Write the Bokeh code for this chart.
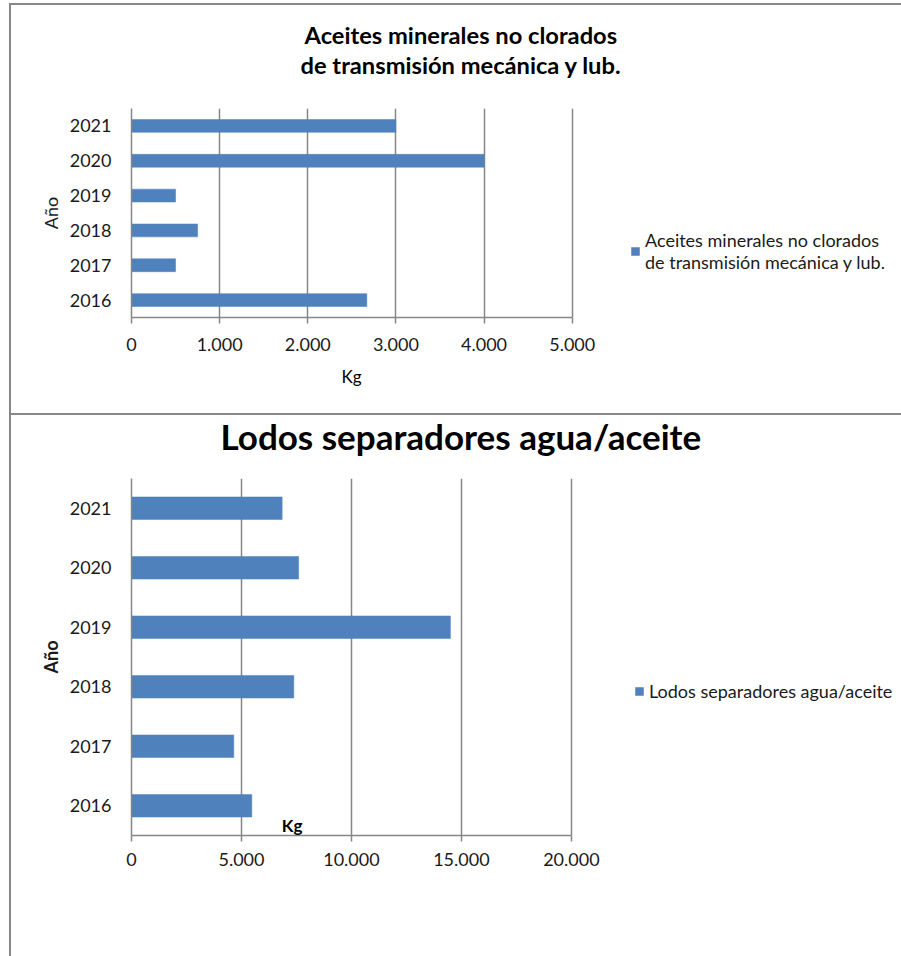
from bokeh.plotting import figure
from bokeh.models import ColumnDataSource, FactorRange, Range1d, FixedTicker, Label, Title, Legend
from bokeh.layouts import column
from bokeh.embed import file_html
from bokeh.resources import INLINE

# ---------------- data ----------------
years = ["2016", "2017", "2018", "2019", "2020", "2021"]

aceites_kg = [2670, 500, 750, 500, 4000, 3000]
aceites_ticks = [0, 1000, 2000, 3000, 4000, 5000]
aceites_tick_labels = ["0", "1.000", "2.000", "3.000", "4.000", "5.000"]
aceites_title = ["Aceites minerales no clorados", "de transmisión mecánica y lub."]
aceites_legend = "Aceites minerales no clorados\nde transmisión mecánica y lub."

lodos_kg = [5470, 4650, 7380, 14500, 7600, 6850]
lodos_ticks = [0, 5000, 10000, 15000, 20000]
lodos_tick_labels = ["0", "5.000", "10.000", "15.000", "20.000"]
lodos_title = "Lodos separadores agua/aceite"
lodos_legend = "Lodos separadores agua/aceite"

x_label = "Kg"
y_label = "Año"

# ---------------- style ----------------
FONT = "Lato"
BAR = "#4F81BD"
GRID = "#868686"
TXT = "#1a1a1a"
W = 901
LINE = "linear-gradient(#878787,#878787)"


def base_fig(h, ticks, labels, axis_px, ml, mt, mb, bar_h, vals, legend_text, yfont_style):
    # frame spans from ml to the right edge; the axis part (0..max tick) covers axis_px pixels
    frame_w = W - ml
    xmax = max(ticks) * frame_w / axis_px
    src = ColumnDataSource(dict(year=years, kg=vals))
    p = figure(width=W, height=h, y_range=FactorRange(factors=years),
               x_range=Range1d(0, xmax), output_backend="svg", toolbar_location=None,
               min_border_left=ml, min_border_right=0, min_border_top=mt, min_border_bottom=mb)
    r = p.hbar(y="year", right="kg", height=bar_h, source=src, fill_color=BAR, line_color=BAR,
               line_width=0.5)
    p.outline_line_color = None
    p.background_fill_alpha = 0
    p.border_fill_alpha = 0
    p.ygrid.visible = False
    p.xgrid.ticker = FixedTicker(ticks=ticks)
    p.xgrid.grid_line_color = GRID
    p.xgrid.grid_line_width = 1.5
    p.xaxis.ticker = FixedTicker(ticks=ticks)
    p.xaxis.bounds = (0, max(ticks))
    p.xaxis.major_label_overrides = {t: l for t, l in zip(ticks, labels)}
    p.xaxis.minor_tick_line_color = None
    p.xaxis.major_tick_out = 6
    p.xaxis.major_tick_in = 0
    p.xaxis.major_tick_line_color = GRID
    p.xaxis.major_tick_line_width = 1.5
    p.xaxis.axis_line_color = GRID
    p.xaxis.axis_line_width = 1.5
    p.yaxis.axis_line_color = GRID
    p.yaxis.axis_line_width = 1.5
    p.yaxis.major_tick_line_color = None
    p.yaxis.minor_tick_line_color = None
    for ax in (p.xaxis, p.yaxis):
        ax.major_label_text_font = FONT
        ax.major_label_text_font_size = "18px"
        ax.major_label_text_color = TXT
        ax.axis_label_text_font = FONT
        ax.axis_label_text_color = TXT
    p.yaxis.major_label_standoff = 14
    p.yaxis.axis_label = y_label
    p.yaxis.axis_label_text_font_size = "18px"
    p.yaxis.axis_label_text_font_style = yfont_style
    p.yaxis.axis_label_standoff = 5
    lg = Legend(items=[(legend_text, [r])])
    lg.label_text_font = FONT
    lg.label_text_font_size = "18px"
    lg.label_text_line_height = 1.33
    lg.label_text_color = TXT
    lg.glyph_width = 10
    lg.glyph_height = 10
    lg.label_standoff = 5
    lg.padding = 0
    lg.margin = 0
    lg.border_line_color = None
    lg.background_fill_alpha = 0
    p.add_layout(lg, "center")
    return p, lg


def title(text, size, offset, standoff, style="bold", valign="bottom"):
    return Title(text=text, align="left", offset=offset, standoff=standoff,
                 vertical_align=valign, text_font=FONT, text_font_size=size,
                 text_font_style=style, text_color="black")


# ---------------- top chart ----------------
p1, lg1 = base_fig(413, aceites_ticks, aceites_tick_labels, 440.7, 131, 108, 96, 0.37,
                   aceites_kg, aceites_legend, "normal")
p1.xaxis.major_label_standoff = 14
lg1.location = (499, 44)
p1.add_layout(title(aceites_title[1], "23.7px", 169, 60), "above")
p1.add_layout(title(aceites_title[0], "23.7px", 173, -61), "above")
# x-axis caption, centred under the 0..5000 part of the axis
p1.add_layout(title(x_label, "17px", 210, 24, style="normal", valign="top"), "below")
p1.styles = {"background": f"{LINE} 9px 3px / 2px 410px no-repeat, "
                           f"{LINE} 9px 3px / 892px 2px no-repeat, white"}

# ---------------- bottom chart ----------------
p2, lg2 = base_fig(543, lodos_ticks, lodos_tick_labels, 441, 129, 65, 121, 0.38,
                   lodos_kg, lodos_legend, "bold")
p2.xaxis.major_label_standoff = 11
lg2.location = (503, 133)
p2.add_layout(title(" ", "1px", 0, 60), "above")
p2.add_layout(title(lodos_title, "35px", 89, -82), "above")
p2.add_layout(Label(x=7300, y=0, text=x_label, text_align="center", text_baseline="bottom",
                    text_font=FONT, text_font_size="17px", text_font_style="bold",
                    text_color="black"))
p2.styles = {"background": f"{LINE} 9px 0px / 2px 543px no-repeat, "
                           f"{LINE} 9px 0px / 892px 2px no-repeat, white"}

layout = column(p1, p2, spacing=0)

open("out.html", "w").write(file_html(layout, INLINE))
